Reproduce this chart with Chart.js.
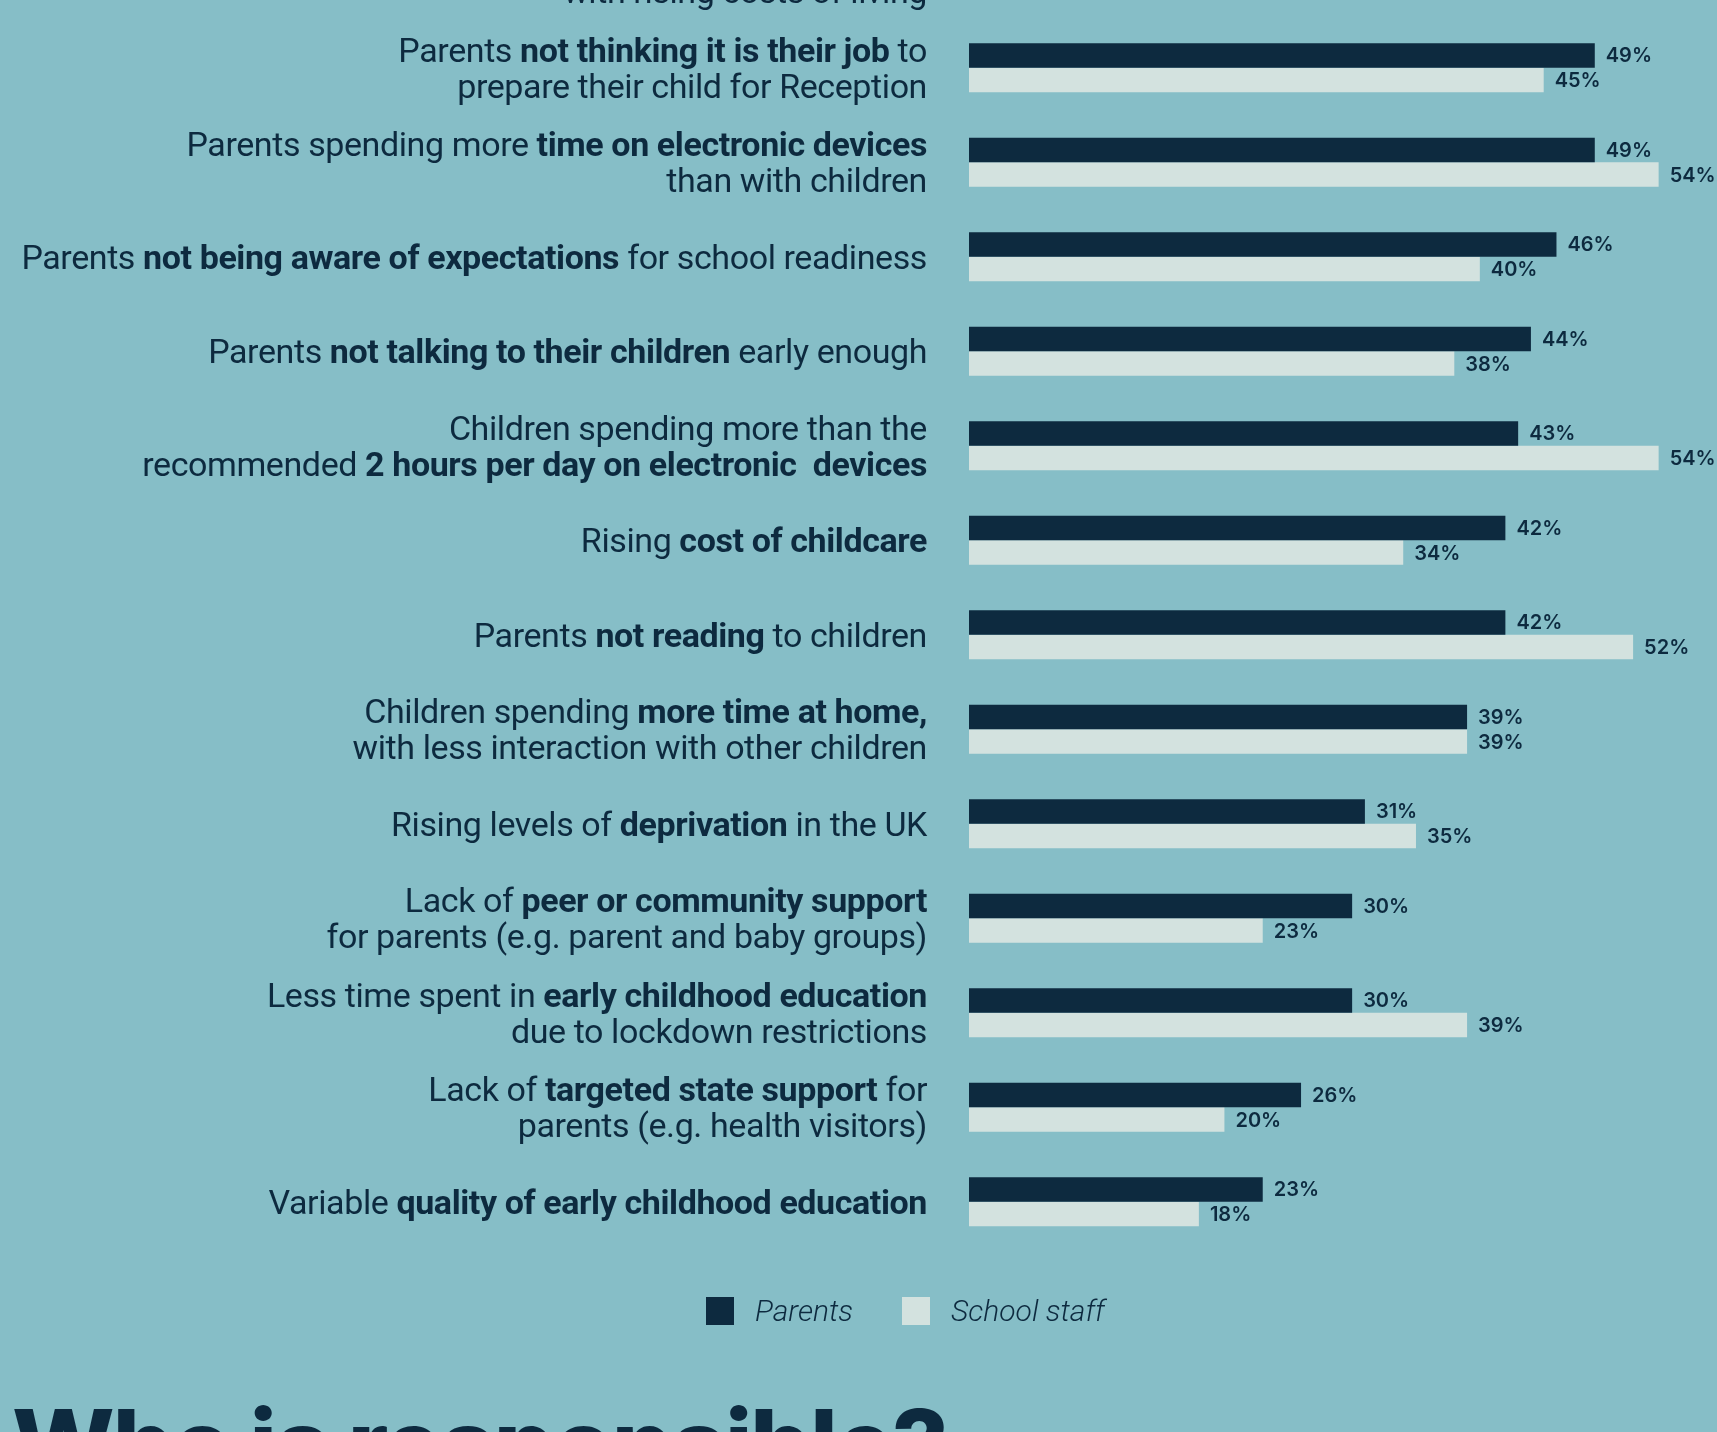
<!DOCTYPE html>
<html>
<head>
<meta charset="utf-8">
<script src="https://cdn.jsdelivr.net/npm/chart.js@4.4.0/dist/chart.umd.min.js"></script>
<style>
  html, body { margin: 0; padding: 0; }
  body {
    width: 1717px; height: 1432px; overflow: hidden; position: relative;
    background: #86bec7; font-family: Roboto, sans-serif; color: #0d2a3f;
  }
  #wrap { position: absolute; left: 0; top: -100px; width: 1717px; height: 1600px; }
  #legend {
    position: absolute; top: 1293px; left: 706px; display: flex; align-items: center;
    font-family: Roboto, sans-serif; font-style: italic; font-weight: 300; font-size: 30px;
  }
  .legend-item { display: flex; align-items: center; margin-right: 49px; }
  .legend-box { width: 28px; height: 28px; margin-right: 21px; }
  #heading {
    position: absolute; left: 12px; top: 1396px; white-space: nowrap;
    font-family: Inter, sans-serif; font-weight: 800; font-size: 97px; line-height: 1;
    letter-spacing: -2px; color: #0d2a3f;
  }
</style>
</head>
<body>
<div id="wrap"><canvas id="mainChart" width="1717" height="1600"></canvas></div>
<div id="legend"></div>
<div id="heading">Who is responsible?</div>
<script>
// label lines, **bold** parts marked
const categoryLines = [
  ["Families struggling to cope", "with rising costs of living"],
  ["Parents **not thinking it is their job** to", "prepare their child for Reception"],
  ["Parents spending more **time on electronic devices**", "than with children"],
  ["Parents **not being aware of expectations** for school readiness"],
  ["Parents **not talking to their children** early enough"],
  ["Children spending more than the", "recommended **2 hours per day on electronic  devices**"],
  ["Rising **cost of childcare**"],
  ["Parents **not reading** to children"],
  ["Children spending **more time at home,**", "with less interaction with other children"],
  ["Rising levels of **deprivation** in the UK"],
  ["Lack of **peer or community support**", "for parents (e.g. parent and baby groups)"],
  ["Less time spent in **early childhood education**", "due to lockdown restrictions"],
  ["Lack of **targeted state support** for", "parents (e.g. health visitors)"],
  ["Variable **quality of early childhood education**"]
];

const parentsValues = [52, 49, 49, 46, 44, 43, 42, 42, 39, 31, 30, 30, 26, 23];
const staffValues   = [47, 45, 54, 40, 38, 54, 34, 52, 39, 35, 23, 39, 20, 18];

const seriesNames = ["Parents", "School staff"];
const seriesColors = ["#0d2a3f", "#d3e2df"];

const textColor = "#0d2a3f";
const labelRight = 927;
const labelSize = 34;
const lineGap = 36;

function drawRich(ctx, line, right, baseline) {
  const parts = line.split("**");
  const fonts = parts.map((p, i) => (i % 2 ? "700 " : "400 ") + labelSize + "px Roboto");
  let total = 0;
  const widths = parts.map((p, i) => {
    ctx.font = fonts[i];
    const w = ctx.measureText(p).width;
    total += w;
    return w;
  });
  let x = right - total;
  parts.forEach((p, i) => {
    ctx.font = fonts[i];
    ctx.fillText(p, x, baseline);
    x += widths[i];
  });
}

const richLabels = {
  id: "richLabels",
  afterDatasetsDraw(chart) {
    const ctx = chart.ctx;
    const yScale = chart.scales.y;
    ctx.save();
    ctx.fillStyle = textColor;
    ctx.letterSpacing = "-0.4px";
    ctx.textAlign = "left";
    ctx.textBaseline = "alphabetic";
    const capHalf = labelSize * 0.711 / 2;
    categoryLines.forEach((lines, i) => {
      const cy = yScale.getPixelForValue(i);
      lines.forEach((line, j) => {
        const ly = cy + (j - (lines.length - 1) / 2) * lineGap;
        drawRich(ctx, line, labelRight, ly + capHalf);
      });
    });

    ctx.letterSpacing = "0px";
    ctx.font = "600 20px Inter";
    ctx.textBaseline = "middle";
    chart.data.datasets.forEach((ds, di) => {
      const meta = chart.getDatasetMeta(di);
      meta.data.forEach((bar, i) => {
        ctx.fillText(ds.data[i] + "%", bar.x + 11, bar.y + 1);
      });
    });
    ctx.restore();
  }
};

const canvas = document.getElementById("mainChart");
const ctx = canvas.getContext("2d");

const chart = new Chart(ctx, {
  type: "bar",
  data: {
    labels: categoryLines.map(l => l.join(" ").replace(/\*\*/g, "")),
    datasets: [
      { label: seriesNames[0], data: parentsValues, backgroundColor: seriesColors[0] },
      { label: seriesNames[1], data: staffValues, backgroundColor: seriesColors[1] }
    ]
  },
  options: {
    indexAxis: "y",
    responsive: false,
    animation: false,
    devicePixelRatio: 1,
    layout: { padding: { top: 26, bottom: 251, left: 969, right: 0 } },
    datasets: {
      bar: { barPercentage: 1, categoryPercentage: 0.52, borderWidth: 0 }
    },
    scales: {
      x: { display: false, min: 0, max: 58.57 },
      y: { display: false }
    },
    plugins: {
      legend: { display: false },
      tooltip: { enabled: false }
    }
  },
  plugins: [richLabels]
});

// legend
const legendContainer = document.getElementById("legend");
chart.data.datasets.forEach(ds => {
  const item = document.createElement("div");
  item.className = "legend-item";
  const box = document.createElement("div");
  box.className = "legend-box";
  box.style.backgroundColor = ds.backgroundColor;
  const txt = document.createElement("span");
  txt.textContent = ds.label;
  item.appendChild(box);
  item.appendChild(txt);
  legendContainer.appendChild(item);
});
</script>
</body>
</html>
